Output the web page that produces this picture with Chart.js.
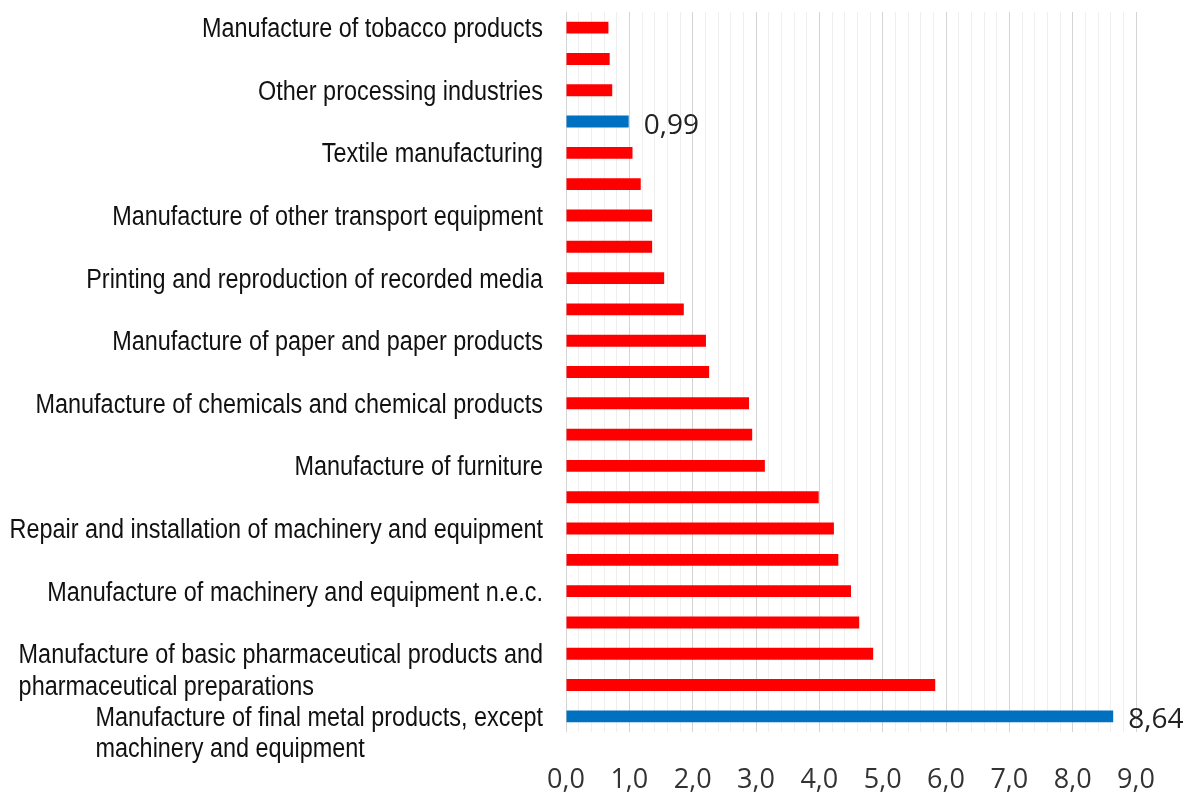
<!DOCTYPE html>
<html>
<head>
<meta charset="utf-8">
<script src="https://cdn.jsdelivr.net/npm/chart.js@4.4.0/dist/chart.umd.min.js"></script>
<style>
  html, body { margin: 0; padding: 0; background: #fff; }
</style>
</head>
<body>
<canvas id="myChart" width="1192" height="798"></canvas>
<script>
// only every second industry carries a visible name
var industries = [
  'Manufacture of tobacco products', '',
  'Other processing industries', '',
  'Textile manufacturing', '',
  'Manufacture of other transport equipment', '',
  'Printing and reproduction of recorded media', '',
  'Manufacture of paper and paper products', '',
  'Manufacture of chemicals and chemical products', '',
  'Manufacture of furniture', '',
  'Repair and installation of machinery and equipment', '',
  'Manufacture of machinery and equipment n.e.c.', '',
  ['Manufacture of basic pharmaceutical products and', 'pharmaceutical preparations'], '',
  ['Manufacture of final metal products, except', 'machinery and equipment']
];
var shares = [0.67, 0.69, 0.73, 0.99, 1.05, 1.18, 1.36, 1.36, 1.55, 1.86, 2.21, 2.26,
              2.89, 2.94, 3.14, 3.99, 4.23, 4.30, 4.50, 4.63, 4.85, 5.83, 8.64];
var highlighted = [3, 22];
var xMin = 0, xMax = 9, xMinorStep = 0.2;

var RED = '#ff0000', BLUE = '#0070c0';
var labelFont = '27px "Liberation Sans", Arial, sans-serif';
var narrow = 0.867; // no narrow face installed, so squeeze the regular one
var numFont = '28px "Open Sans", sans-serif';

function fmt(v, d){ return v.toFixed(d).replace('.', ','); }
function isMajor(v){ return Math.abs(v - Math.round(v)) < 1e-6; }

var colors = shares.map(function(v, i){ return highlighted.indexOf(i) >= 0 ? BLUE : RED; });
var names = industries.map(function(n){ return Array.isArray(n) ? n.join(' ') : n; });

// names on the left: lines left-aligned inside a block that hugs the axis
var sideLabels = {
  id: 'sideLabels',
  afterDraw: function(chart){
    var ctx = chart.ctx, ys = chart.scales.y;
    var right = (chart.chartArea.left - 23) / narrow;
    ctx.save();
    ctx.scale(narrow, 1);
    ctx.font = labelFont;
    ctx.fillStyle = '#111';
    ctx.textBaseline = 'middle';
    ctx.textAlign = 'left';
    industries.forEach(function(name, i){
      if (!name) return;
      var lines = [].concat(name);
      var w = Math.max.apply(null, lines.map(function(l){ return ctx.measureText(l).width; }));
      var y0 = ys.getPixelForValue(i) + 2;
      lines.forEach(function(l, k){ ctx.fillText(l, right - w, y0 + k * 31.5); });
    });
    ctx.restore();
  }
};

// value text next to the blue bars
var valueLabels = {
  id: 'valueLabels',
  afterDatasetsDraw: function(chart){
    var ctx = chart.ctx, meta = chart.getDatasetMeta(0);
    ctx.save();
    ctx.font = numFont;
    ctx.fillStyle = '#222';
    ctx.textBaseline = 'middle';
    ctx.textAlign = 'left';
    highlighted.forEach(function(i){
      var bar = meta.data[i];
      ctx.fillText(fmt(shares[i], 2), bar.x + 15, bar.y + 4);
    });
    ctx.restore();
  }
};

var chart = new Chart(document.getElementById('myChart').getContext('2d'), {
  type: 'bar',
  data: {
    labels: names,
    datasets: [{
      data: shares,
      backgroundColor: colors,
      borderWidth: 0,
      barPercentage: 0.38,
      categoryPercentage: 1
    }]
  },
  options: {
    indexAxis: 'y',
    responsive: false,
    animation: false,
    layout: { padding: { top: 12, right: 56, bottom: 0, left: 0 } },
    plugins: { legend: { display: false }, tooltip: { enabled: false } },
    scales: {
      y: {
        ticks: { display: false },
        grid: { display: false },
        border: { display: false },
        afterFit: function(s){ s.width = 566; }
      },
      x: {
        position: 'bottom',
        min: xMin,
        max: xMax,
        border: { display: false },
        grid: {
          drawTicks: false,
          color: function(c){ return isMajor(c.tick.value) ? '#d4d4d4' : '#efefef'; }
        },
        ticks: {
          stepSize: xMinorStep,
          autoSkip: false,
          maxRotation: 0,
          padding: 32,
          color: '#333',
          font: { family: '"Open Sans", sans-serif', size: 27 },
          callback: function(v){ return isMajor(v) ? fmt(Math.round(v), 1) : ''; }
        },
        afterFit: function(s){ s.height = 66; }
      }
    }
  },
  plugins: [sideLabels, valueLabels]
});
</script>
</body>
</html>
